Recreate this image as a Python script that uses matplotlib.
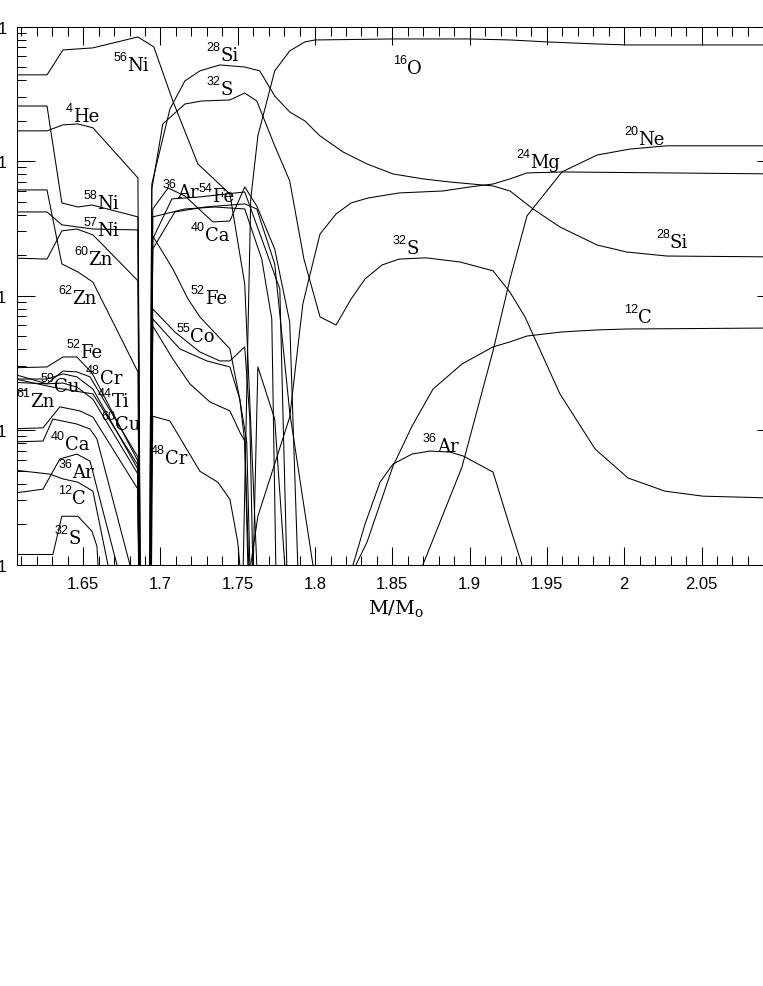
import matplotlib
matplotlib.use("Agg")
import matplotlib.pyplot as plt
from matplotlib.ticker import (FixedLocator, FixedFormatter, MultipleLocator,
                               LogLocator, NullFormatter)

plt.rcParams["mathtext.fontset"] = "dejavuserif"

# mass coordinate (M/Msun) and mass fraction for each isotope
m_ni56 = [1.60, 1.6266, 1.6369, 1.6563, 1.6854, 1.6957, 1.7080, 1.7242, 1.7449, 1.7545, 1.7623, 1.766]
x_ni56 = [0.438, 0.438, 0.671, 0.695, 0.838, 0.707, 0.28, 0.0953, 0.057, 0.0122, 1e-4, 1e-6]

m_he4 = [1.60, 1.6266, 1.6369, 1.6466, 1.6563, 1.6854, 1.690, 1.758, 1.7630, 1.7739, 1.7804, 1.785]
x_he4 = [0.168, 0.168, 0.186, 0.189, 0.177, 0.075, 1e-10, 1e-5, 0.00295, 0.00121, 1e-4, 1e-6]

m_ni58 = [1.60, 1.6266, 1.6362, 1.6466, 1.6557, 1.6854, 1.690, 1.6950, 1.7158, 1.7352, 1.7545, 1.7655, 1.7720, 1.7746, 1.778]
x_ni58 = [0.257, 0.257, 0.0489, 0.0456, 0.0472, 0.0385, 1e-10, 0.0385, 0.0441, 0.0456, 0.0441, 0.0187, 0.00671, 1e-4, 1e-6]

m_ni57 = [1.60, 1.6266, 1.6362, 1.6563, 1.6854, 1.690, 1.6950, 1.7125, 1.7300, 1.7449, 1.7513, 1.7545, 1.7571, 1.760]
x_ni57 = [0.0419, 0.0419, 0.0336, 0.0313, 0.0308, 1e-10, 0.00671, 0.00402, 0.00327, 0.00295, 0.0017, 0.000815, 1e-4, 1e-6]

m_zn60 = [1.60, 1.6266, 1.6362, 1.6459, 1.6563, 1.6854, 1.690, 1.6950, 1.7080, 1.7190, 1.7320, 1.7449, 1.7513, 1.7545, 1.7565, 1.760]
x_zn60 = [0.0191, 0.0187, 0.0303, 0.0313, 0.0283, 0.0129, 1e-10, 0.00595, 0.00338, 0.00221, 0.00162, 0.00139, 0.000968, 0.00083, 1e-4, 1e-6]

m_zn62 = [1.60, 1.6266, 1.6362, 1.6466, 1.6563, 1.6854, 1.690]
x_zn62 = [0.0611, 0.0611, 0.0172, 0.0150, 0.0126, 0.00271, 1e-10]

m_fe52 = [1.60, 1.6266, 1.6369, 1.6459, 1.6557, 1.6854, 1.690, 1.6950, 1.7080, 1.7178, 1.7255, 1.7449, 1.7513, 1.7558, 1.7578, 1.760]
x_fe52 = [0.0029, 0.00295, 0.0035, 0.0035, 0.00266, 0.000589, 1e-10, 0.0278, 0.0158, 0.00944, 0.00695, 0.00402, 0.0017, 0.000815, 1e-4, 1e-6]

m_cu59 = [1.60, 1.6266, 1.6369, 1.6459, 1.6544, 1.6854, 1.690]
x_cu59 = [0.00271, 0.00221, 0.00275, 0.00271, 0.00249, 0.000631, 1e-10]

m_zn61 = [1.60, 1.6266, 1.6369, 1.6563, 1.6854, 1.690]
x_zn61 = [0.00249, 0.00213, 0.00202, 0.00186, 0.00055, 1e-10]

m_cr48 = [1.60, 1.6266, 1.6369, 1.6459, 1.6563, 1.6854, 1.690, 1.6950, 1.7061, 1.7255, 1.7371, 1.7449, 1.7500, 1.7513, 1.753]
x_cr48 = [0.0024, 0.0024, 0.00262, 0.00249, 0.00202, 0.000513, 1e-10, 0.00127, 0.00117, 0.000495, 0.00041, 0.000307, 0.000147, 1e-4, 1e-6]

m_ti44 = [1.60, 1.6266, 1.6369, 1.6459, 1.6563, 1.6854, 1.690]
x_ti44 = [0.00228, 0.00221, 0.00224, 0.00209, 0.0017, 0.000471, 1e-10]

m_cu60 = [1.60, 1.6240, 1.6349, 1.6479, 1.6563, 1.6854, 1.690]
x_cu60 = [0.00102, 0.00104, 0.00149, 0.00139, 0.00125, 0.000364, 1e-10]

m_ca40 = [1.60, 1.6240, 1.6304, 1.6459, 1.6544, 1.6589, 1.6802, 1.690, 1.6950, 1.7093, 1.7287, 1.7545, 1.7623, 1.7739, 1.7836, 1.7921, 1.7986, 1.802]
x_ca40 = [0.000815, 0.00083, 0.00121, 0.00111, 0.00102, 0.000859, 1e-4, 1e-10, 0.0222, 0.0419, 0.0456, 0.0481, 0.0441, 0.0172, 0.00136, 0.000307, 1e-4, 1e-6]

m_ar36 = [1.60, 1.6240, 1.6349, 1.6459, 1.6544, 1.6718, 1.690, 1.6950, 1.7049, 1.7158, 1.7339, 1.7449, 1.7545, 1.7623,
          1.7739, 1.7836, 1.7888, 1.80, 1.8246, 1.8323, 1.8420, 1.8504, 1.8627, 1.8743, 1.8872, 1.8957, 1.9151, 1.9261, 1.9338, 1.94]
x_ar36 = [0.000334, 0.000364, 0.00061, 0.000664, 0.000589, 1e-4, 1e-10, 0.0441, 0.0632, 0.0551, 0.0353, 0.0359, 0.0643, 0.0464,
          0.0222, 0.00637, 1e-4, 1e-6, 1e-4, 0.0002, 0.00041, 0.000559, 0.000664, 0.000699, 0.000687, 0.000643, 0.000488, 0.00019, 1e-4, 1e-6]

m_c12 = [1.60, 1.6285, 1.6369, 1.6466, 1.6563, 1.6660, 1.690, 1.82, 1.8265, 1.8336, 1.8504, 1.8627, 1.8763, 1.8950,
         1.9151, 1.9261, 1.9371, 1.9597, 1.9824, 2.0017, 2.10]
x_c12 = [0.000513, 0.000471, 0.000434, 0.00041, 0.000352, 1e-4, 1e-10, 1e-6, 1e-4, 0.000147, 0.00054, 0.00107, 0.00202, 0.0031,
         0.00416, 0.00453, 0.00501, 0.00537, 0.00556, 0.00565, 0.00575]

m_s32 = [1.60, 1.6304, 1.6362, 1.6466, 1.6557, 1.6589, 1.690, 1.6944, 1.7015, 1.7158, 1.7268, 1.7449, 1.7545, 1.7623,
         1.7739, 1.7836, 1.7928, 1.8032, 1.8136, 1.8233, 1.8323, 1.8433, 1.8543, 1.8717, 1.8937, 1.9151, 1.9261, 1.9358,
         1.9584, 1.9811, 2.0024, 2.0263, 2.0509, 2.10]
x_s32 = [0.000119, 0.000119, 0.000229, 0.000229, 0.000177, 0.000137, 1e-10, 0.0621, 0.189, 0.266, 0.28, 0.285, 0.321, 0.28,
         0.130, 0.0713, 0.0187, 0.00695, 0.00605, 0.00944, 0.0133, 0.0169, 0.0187, 0.0191, 0.0178, 0.0153, 0.0106, 0.00695,
         0.00186, 0.000725, 0.000441, 0.000352, 0.000323, 0.000312]

m_si28 = [1.690, 1.6944, 1.7061, 1.7158, 1.7255, 1.7384, 1.7545, 1.7642, 1.7739, 1.7836, 1.7934, 1.8032, 1.8181, 1.8336,
          1.8504, 1.8698, 1.8872, 1.9151, 1.9261, 1.9410, 1.9584, 1.9824, 2.0017, 2.0276, 2.10]
x_si28 = [1e-10, 0.0676, 0.244, 0.395, 0.469, 0.519, 0.501, 0.469, 0.305, 0.232, 0.199, 0.154, 0.117, 0.0953,
          0.0803, 0.0738, 0.070, 0.0654, 0.060, 0.0441, 0.0324, 0.0238, 0.0211, 0.0197, 0.0194]

m_fe54 = [1.690, 1.6950, 1.7074, 1.7255, 1.7545, 1.7655, 1.7772, 1.7817, 1.785]
x_fe54 = [1e-10, 0.0264, 0.0524, 0.0542, 0.059, 0.0264, 0.0112, 1e-4, 1e-6]

m_co55 = [1.690, 1.6950, 1.7093, 1.7255, 1.7384, 1.7449, 1.7545, 1.7578, 1.7597, 1.762]
x_co55 = [1e-10, 0.00796, 0.00537, 0.00381, 0.00327, 0.00327, 0.00416, 0.00121, 1e-4, 1e-6]

m_o16 = [1.750, 1.7565, 1.7584, 1.7630, 1.7739, 1.7836, 1.7934, 1.800, 1.8504, 1.9002, 1.9261, 1.950, 1.9824, 2.0017, 2.10]
x_o16 = [1e-6, 0.00476, 0.0524, 0.154, 0.469, 0.66, 0.77, 0.796, 0.81, 0.81, 0.796, 0.77, 0.743, 0.731, 0.731]

m_ne20 = [1.80, 1.8698, 1.8950, 1.9151, 1.9261, 1.9371, 1.9597, 1.9824, 2.0037, 2.0276, 2.10]
x_ne20 = [1e-6, 1e-4, 0.000531, 0.00388, 0.0133, 0.0392, 0.0831, 0.111, 0.123, 0.130, 0.130]

m_mg24 = [1.750, 1.7584, 1.7630, 1.7836, 1.7921, 1.7960, 1.8032, 1.8136, 1.8233, 1.8343, 1.8543, 1.8827, 1.9002,
          1.9151, 1.9261, 1.9371, 1.9604, 2.10]
x_mg24 = [1e-6, 1e-4, 0.000229, 0.00125, 0.00867, 0.0133, 0.0287, 0.0405, 0.0489, 0.0532, 0.058, 0.060, 0.0643,
          0.0676, 0.0738, 0.0817, 0.0831, 0.0803]

# curve labels: mass number, element, position (M, X)
label_num = ["56", "28", "32", "16", "4", "20", "24", "36", "54", "58", "40", "57", "32", "28", "60", "62",
             "52", "12", "55", "52", "48", "59", "61", "44", "60", "40", "48", "36", "12", "32", "36"]
label_elem = ["Ni", "Si", "S", "O", "He", "Ne", "Mg", "Ar", "Fe", "Ni", "Ca", "Ni", "S", "Si", "Zn", "Zn",
              "Fe", "C", "Co", "Fe", "Cr", "Cu", "Zn", "Ti", "Cu", "Ca", "Cr", "Ar", "C", "S", "Ar"]
label_m = [1.6783, 1.7386, 1.7386, 1.8593, 1.6434, 2.0088, 1.9390, 1.7105, 1.7333, 1.6589, 1.7287, 1.6589,
           1.8593, 2.0295, 1.6531, 1.6428, 1.7287, 2.0088, 1.7192, 1.6480, 1.6609, 1.6311, 1.6156, 1.6686,
           1.6706, 1.6382, 1.7028, 1.6428, 1.6428, 1.6402, 1.8788]
label_x = [0.537, 0.637, 0.356, 0.510, 0.224, 0.151, 0.102, 0.0611, 0.057, 0.0506, 0.0291, 0.0319,
           0.0234, 0.0259, 0.0194, 0.00995, 0.00995, 0.00719, 0.00519, 0.00394, 0.00253, 0.00221, 0.0017, 0.0017,
           0.00115, 0.000815, 0.000643, 0.000506, 0.000324, 0.000163, 0.000789]

xtick_vals = [1.65, 1.70, 1.75, 1.80, 1.85, 1.90, 1.95, 2.00, 2.05]
xtick_labels = ["1.65", "1.7", "1.75", "1.8", "1.85", "1.9", "1.95", "2", "2.05"]
ytick_vals = [1e-4, 1e-3, 1e-2, 1e-1, 1.0]
ytick_labels = ["0.0001", "0.001", "0.01", "0.1", "1"]

curves = [(m_ni56, x_ni56), (m_he4, x_he4), (m_ni58, x_ni58), (m_ni57, x_ni57), (m_zn60, x_zn60),
          (m_zn62, x_zn62), (m_fe52, x_fe52), (m_cu59, x_cu59), (m_zn61, x_zn61), (m_cr48, x_cr48),
          (m_ti44, x_ti44), (m_cu60, x_cu60), (m_ca40, x_ca40), (m_ar36, x_ar36), (m_c12, x_c12),
          (m_s32, x_s32), (m_si28, x_si28), (m_fe54, x_fe54), (m_co55, x_co55), (m_o16, x_o16),
          (m_ne20, x_ne20), (m_mg24, x_mg24)]

fig = plt.figure(figsize=(7.63, 9.87), dpi=100)
ax = fig.add_axes([0.0219, 0.4269, 0.9938, 0.5451])

for m, x in curves:
    ax.plot(m, x, color="black", lw=0.75)

ax.set_yscale("log")
ax.set_xlim(1.607, 2.0975)
ax.set_ylim(1e-4, 1)

ax.xaxis.set_major_locator(FixedLocator(xtick_vals))
ax.xaxis.set_major_formatter(FixedFormatter(xtick_labels))
ax.xaxis.set_minor_locator(MultipleLocator(0.01))
ax.yaxis.set_major_locator(FixedLocator(ytick_vals))
ax.yaxis.set_major_formatter(FixedFormatter(ytick_labels))
ax.yaxis.set_minor_locator(LogLocator(base=10, subs=range(2, 10)))
ax.yaxis.set_minor_formatter(NullFormatter())

ax.tick_params(which="both", direction="in", top=True, right=True, width=0.75)
ax.tick_params(which="major", length=13, labelsize=12)
ax.tick_params(which="minor", length=6.5)
ax.tick_params(axis="x", pad=8.5)
ax.tick_params(axis="y", pad=7)
for lab in ax.get_xticklabels() + ax.get_yticklabels():
    lab.set_family("Liberation Sans")
for sp in ax.spines.values():
    sp.set_linewidth(0.75)

ax.set_xlabel(r"$\mathrm{M/M_o}$", fontsize=14, labelpad=4)

for num, el, m, x in zip(label_num, label_elem, label_m, label_x):
    ax.text(m, x, el, family="DejaVu Serif", fontsize=13, ha="left", va="center_baseline")
    ax.annotate(num, (m, x), xytext=(0, 5.5), textcoords="offset points",
                family="Liberation Sans", fontsize=9, ha="right", va="center_baseline")

fig.savefig("out.png", dpi=100)
